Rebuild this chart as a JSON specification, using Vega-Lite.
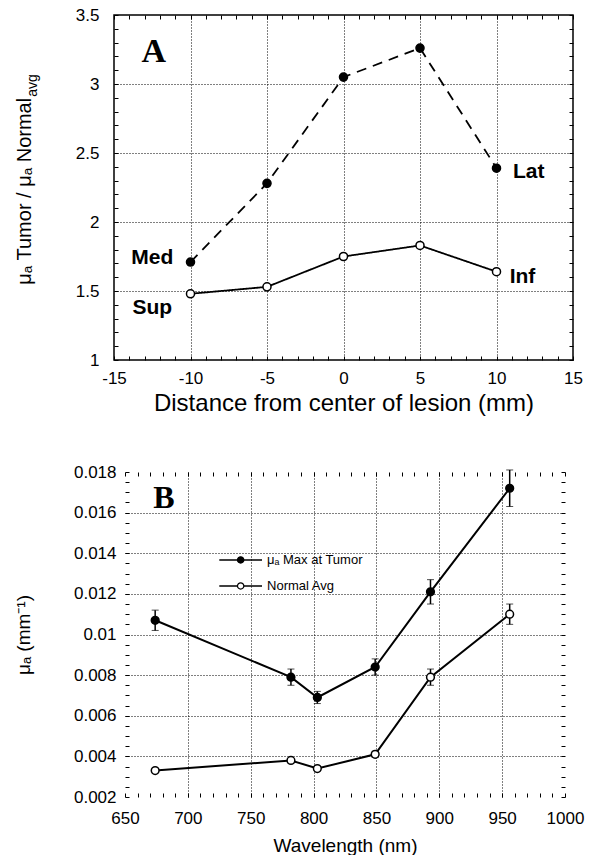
{
  "$schema": "https://vega.github.io/schema/vega-lite/v6.json",
  "padding": {"left": 14, "top": 5, "right": 5, "bottom": 0},
  "spacing": 47,
  "datasets": {
    "a": [
      {"x": -10, "y": 1.71, "s": "dashed"},
      {"x": -5, "y": 2.28, "s": "dashed"},
      {"x": 0, "y": 3.05, "s": "dashed"},
      {"x": 5, "y": 3.26, "s": "dashed"},
      {"x": 10, "y": 2.39, "s": "dashed"},
      {"x": -10, "y": 1.48, "s": "solid"},
      {"x": -5, "y": 1.53, "s": "solid"},
      {"x": 0, "y": 1.75, "s": "solid"},
      {"x": 5, "y": 1.83, "s": "solid"},
      {"x": 10, "y": 1.64, "s": "solid"}
    ],
    "aLabels": [
      {"x": -12.5, "y": 1.74, "t": "Med"},
      {"x": -12.5, "y": 1.38, "t": "Sup"},
      {"x": 12.1, "y": 2.36, "t": "Lat"},
      {"x": 11.7, "y": 1.6, "t": "Inf"}
    ],
    "aLetter": [{"x": -12.4, "y": 3.23, "t": "A"}],
    "aTitle": [{"x": -20.8, "y": 2.9, "t": "μₐ Tumor / μₐ Normal"}],
    "aTitleSub": [{"x": -20.8, "y": 2.9, "t": "avg"}],
    "b": [
      {"w": 674, "mu": 0.0107, "lo": 0.0102, "hi": 0.0112, "s": "Max at Tumor"},
      {"w": 782, "mu": 0.0079, "lo": 0.0075, "hi": 0.0083, "s": "Max at Tumor"},
      {"w": 803, "mu": 0.0069, "lo": 0.0066, "hi": 0.0072, "s": "Max at Tumor"},
      {"w": 849, "mu": 0.0084, "lo": 0.008, "hi": 0.0088, "s": "Max at Tumor"},
      {"w": 893, "mu": 0.0121, "lo": 0.0115, "hi": 0.0127, "s": "Max at Tumor"},
      {"w": 956, "mu": 0.0172, "lo": 0.0163, "hi": 0.0181, "s": "Max at Tumor"},
      {"w": 674, "mu": 0.0033, "lo": 0.00325, "hi": 0.00335, "s": "Normal Avg"},
      {"w": 782, "mu": 0.0038, "lo": 0.0037, "hi": 0.0039, "s": "Normal Avg"},
      {"w": 803, "mu": 0.0034, "lo": 0.0033, "hi": 0.0035, "s": "Normal Avg"},
      {"w": 849, "mu": 0.0041, "lo": 0.00395, "hi": 0.00425, "s": "Normal Avg"},
      {"w": 893, "mu": 0.0079, "lo": 0.0075, "hi": 0.0083, "s": "Normal Avg"},
      {"w": 956, "mu": 0.011, "lo": 0.0105, "hi": 0.0115, "s": "Normal Avg"}
    ],
    "bLegend": [
      {"x1": 725, "x2": 759, "xm": 742, "xt": 763, "y": 0.01367, "s": "Max at Tumor", "t": "μₐ Max at Tumor"},
      {"x1": 725, "x2": 759, "xm": 742, "xt": 763, "y": 0.01239, "s": "Normal Avg", "t": "Normal Avg"}
    ],
    "bLetter": [{"x": 681, "y": 0.01674, "t": "B"}]
  },
  "config": {
    "font": "Liberation Sans",
    "view": {"stroke": "black", "strokeWidth": 1.5},
    "axis": {
      "domain": false,
      "tickColor": "black",
      "tickWidth": 1,
      "tickSize": 4,
      "labelColor": "black",
      "titleColor": "black",
      "labelFlush": false,
      "labelOverlap": false,
      "titleFontWeight": "normal",
      "gridColor": "black",
      "gridDash": [1, 2],
      "gridWidth": 1
    }
  },
  "vconcat": [
    {
      "width": 459,
      "height": 345,
      "layer": [
        {
          "data": {"name": "a"},
          "mark": {"type": "line", "color": "black", "strokeWidth": 1.8},
          "encoding": {
            "x": {"field": "x", "type": "quantitative", "scale": {"domain": [-15, 15], "nice": false},
              "axis": {"orient": "bottom", "values": [-10, -5, 0, 5, 10], "grid": true, "ticks": false, "labels": false, "title": null}},
            "y": {"field": "y", "type": "quantitative", "scale": {"domain": [1, 3.5], "nice": false},
              "axis": {"orient": "left", "values": [1.5, 2, 2.5, 3], "grid": true, "ticks": false, "labels": false, "title": null}},
            "detail": {"field": "s"},
            "strokeDash": {"field": "s", "type": "nominal", "scale": {"domain": ["dashed", "solid"], "range": [[10, 7], [1, 0]]}, "legend": null}
          }
        },
        {
          "data": {"name": "a"},
          "mark": {"type": "point", "filled": false, "stroke": "black", "strokeWidth": 1.5, "opacity": 1, "size": 65},
          "encoding": {
            "x": {"field": "x", "type": "quantitative", "scale": {"domain": [-15, 15], "nice": false},
              "axis": {"orient": "bottom", "offset": -4, "values": [-15,-14,-13,-12,-11,-10,-9,-8,-7,-6,-5,-4,-3,-2,-1,0,1,2,3,4,5,6,7,8,9,10,11,12,13,14,15],
                "labelExpr": "datum.value % 5 == 0 ? replace(format(datum.value, '~g'), '\u2212', '-') : ''",
                "grid": false, "labelFontSize": 17, "labelPadding": 10, "title": "Distance from center of lesion (mm)", "titleFontSize": 24, "titlePadding": 5}},
            "y": {"field": "y", "type": "quantitative", "scale": {"domain": [1, 3.5], "nice": false},
              "axis": {"orient": "left", "offset": -4, "values": [1,1.1,1.2,1.3,1.4,1.5,1.6,1.7,1.8,1.9,2,2.1,2.2,2.3,2.4,2.5,2.6,2.7,2.8,2.9,3,3.1,3.2,3.3,3.4,3.5],
                "labelExpr": "round(datum.value * 10) % 5 == 0 ? format(datum.value, '~g') : ''",
                "grid": false, "labelFontSize": 17, "labelPadding": 15, "title": null}},
            "fill": {"field": "s", "type": "nominal", "scale": {"domain": ["dashed", "solid"], "range": ["black", "white"]}, "legend": null}
          }
        },
        {
          "data": {"name": "aLabels"},
          "mark": {"type": "text", "fontSize": 21, "fontWeight": "bold", "align": "center", "baseline": "middle", "color": "black"},
          "encoding": {
            "x": {"field": "x", "type": "quantitative", "scale": {"domain": [-15, 15], "nice": false},
              "axis": {"orient": "top", "offset": -4, "values": [-15,-14,-13,-12,-11,-10,-9,-8,-7,-6,-5,-4,-3,-2,-1,0,1,2,3,4,5,6,7,8,9,10,11,12,13,14,15], "labels": false, "grid": false, "title": null}},
            "y": {"field": "y", "type": "quantitative", "scale": {"domain": [1, 3.5], "nice": false},
              "axis": {"orient": "right", "offset": -4, "values": [1,1.1,1.2,1.3,1.4,1.5,1.6,1.7,1.8,1.9,2,2.1,2.2,2.3,2.4,2.5,2.6,2.7,2.8,2.9,3,3.1,3.2,3.3,3.4,3.5], "labels": false, "grid": false, "title": null}},
            "text": {"field": "t"}
          }
        },
        {
          "data": {"name": "aLetter"},
          "mark": {"type": "text", "font": "Liberation Serif", "fontSize": 34, "fontWeight": "bold", "align": "center", "baseline": "middle", "color": "black"},
          "encoding": {
            "x": {"field": "x", "type": "quantitative", "axis": null},
            "y": {"field": "y", "type": "quantitative", "axis": null},
            "text": {"field": "t"}
          }
        },
        {
          "data": {"name": "aTitle"},
          "mark": {"type": "text", "fontSize": 20, "angle": 270, "align": "right", "baseline": "middle", "color": "black"},
          "encoding": {
            "x": {"field": "x", "type": "quantitative", "axis": null},
            "y": {"field": "y", "type": "quantitative", "axis": null},
            "text": {"field": "t"}
          }
        },
        {
          "data": {"name": "aTitleSub"},
          "mark": {"type": "text", "fontSize": 14, "angle": 270, "align": "left", "baseline": "middle", "dy": 8, "dx": 1, "color": "black"},
          "encoding": {
            "x": {"field": "x", "type": "quantitative", "axis": null},
            "y": {"field": "y", "type": "quantitative", "axis": null},
            "text": {"field": "t"}
          }
        }
      ]
    },
    {
      "width": 451,
      "height": 325,
      "view": {"stroke": null},
      "layer": [
        {
          "data": {"name": "b"},
          "mark": {"type": "line", "color": "black", "strokeWidth": 2},
          "encoding": {
            "x": {"field": "w", "type": "quantitative", "scale": {"domain": [650, 1000], "nice": false, "range": [11, 451]},
              "axis": {"orient": "bottom", "values": [700, 750, 800, 850, 900, 950], "grid": true, "ticks": false, "labels": false, "title": null}},
            "y": {"field": "mu", "type": "quantitative", "scale": {"domain": [0.002, 0.018], "nice": false},
              "axis": {"orient": "left", "offset": -11, "values": [0.004, 0.006, 0.008, 0.01, 0.012, 0.014, 0.016], "grid": true, "ticks": false, "labels": false, "title": null}},
            "detail": {"field": "s"}
          }
        },
        {
          "mark": {"type": "rect", "fillOpacity": 0, "stroke": "black", "strokeWidth": 1.5},
          "encoding": {
            "x": {"datum": 650, "type": "quantitative", "axis": null},
            "x2": {"datum": 1000},
            "y": {"datum": 0.002, "type": "quantitative", "axis": null},
            "y2": {"datum": 0.018}
          }
        },
        {
          "data": {"name": "b"},
          "mark": {"type": "errorbar", "color": "black", "ticks": {"size": 7, "color": "black"}, "rule": {"strokeWidth": 1.5}},
          "encoding": {
            "x": {"field": "w", "type": "quantitative", "axis": null},
            "y": {"field": "lo", "type": "quantitative", "axis": null},
            "y2": {"field": "hi"}
          }
        },
        {
          "data": {"name": "b"},
          "mark": {"type": "point", "filled": false, "stroke": "black", "strokeWidth": 1.5, "opacity": 1, "size": 60},
          "encoding": {
            "x": {"field": "w", "type": "quantitative", "scale": {"domain": [650, 1000], "nice": false, "range": [11, 451]},
              "axis": {"orient": "bottom", "offset": -4, "values": [650,660,670,680,690,700,710,720,730,740,750,760,770,780,790,800,810,820,830,840,850,860,870,880,890,900,910,920,930,940,950,960,970,980,990,1000],
                "labelExpr": "datum.value % 50 == 0 ? format(datum.value, '~g') : ''",
                "grid": false, "labelFontSize": 17, "labelPadding": 13, "title": "Wavelength (nm)", "titleFontSize": 19, "titlePadding": 10}},
            "y": {"field": "mu", "type": "quantitative", "scale": {"domain": [0.002, 0.018], "nice": false},
              "axis": {"orient": "left", "offset": -15, "values": [0.002,0.0025,0.003,0.0035,0.004,0.0045,0.005,0.0055,0.006,0.0065,0.007,0.0075,0.008,0.0085,0.009,0.0095,0.01,0.0105,0.011,0.0115,0.012,0.0125,0.013,0.0135,0.014,0.0145,0.015,0.0155,0.016,0.0165,0.017,0.0175,0.018],
                "labelExpr": "round(datum.value * 10000) % 20 == 0 ? format(datum.value, '~g') : ''",
                "grid": false, "labelFontSize": 17, "labelPadding": 9, "title": "μₐ (mm⁻¹)", "titleFontSize": 19, "titlePadding": 40}},
            "fill": {"field": "s", "type": "nominal", "scale": {"domain": ["Max at Tumor", "Normal Avg"], "range": ["black", "white"]}, "legend": null}
          }
        },
        {
          "data": {"name": "bLegend"},
          "mark": {"type": "rule", "color": "black", "strokeWidth": 1.5},
          "encoding": {
            "x": {"field": "x1", "type": "quantitative", "scale": {"domain": [650, 1000], "nice": false, "range": [11, 451]},
              "axis": {"orient": "top", "offset": -4, "values": [650,660,670,680,690,700,710,720,730,740,750,760,770,780,790,800,810,820,830,840,850,860,870,880,890,900,910,920,930,940,950,960,970,980,990,1000], "labels": false, "grid": false, "title": null}},
            "x2": {"field": "x2"},
            "y": {"field": "y", "type": "quantitative", "scale": {"domain": [0.002, 0.018], "nice": false},
              "axis": {"orient": "right", "offset": -4, "values": [0.002,0.0025,0.003,0.0035,0.004,0.0045,0.005,0.0055,0.006,0.0065,0.007,0.0075,0.008,0.0085,0.009,0.0095,0.01,0.0105,0.011,0.0115,0.012,0.0125,0.013,0.0135,0.014,0.0145,0.015,0.0155,0.016,0.0165,0.017,0.0175,0.018], "labels": false, "grid": false, "title": null}}
          }
        },
        {
          "data": {"name": "bLegend"},
          "mark": {"type": "point", "filled": false, "stroke": "black", "strokeWidth": 1.2, "opacity": 1, "size": 40},
          "encoding": {
            "x": {"field": "xm", "type": "quantitative", "axis": null},
            "y": {"field": "y", "type": "quantitative", "axis": null},
            "fill": {"field": "s", "type": "nominal", "scale": {"domain": ["Max at Tumor", "Normal Avg"], "range": ["black", "white"]}, "legend": null}
          }
        },
        {
          "data": {"name": "bLegend"},
          "mark": {"type": "text", "fontSize": 13, "align": "left", "baseline": "middle", "color": "black"},
          "encoding": {
            "x": {"field": "xt", "type": "quantitative", "axis": null},
            "y": {"field": "y", "type": "quantitative", "axis": null},
            "text": {"field": "t"}
          }
        },
        {
          "data": {"name": "bLetter"},
          "mark": {"type": "text", "font": "Liberation Serif", "fontSize": 32, "fontWeight": "bold", "align": "center", "baseline": "middle", "color": "black"},
          "encoding": {
            "x": {"field": "x", "type": "quantitative", "axis": null},
            "y": {"field": "y", "type": "quantitative", "axis": null},
            "text": {"field": "t"}
          }
        }
      ]
    }
  ]
}
